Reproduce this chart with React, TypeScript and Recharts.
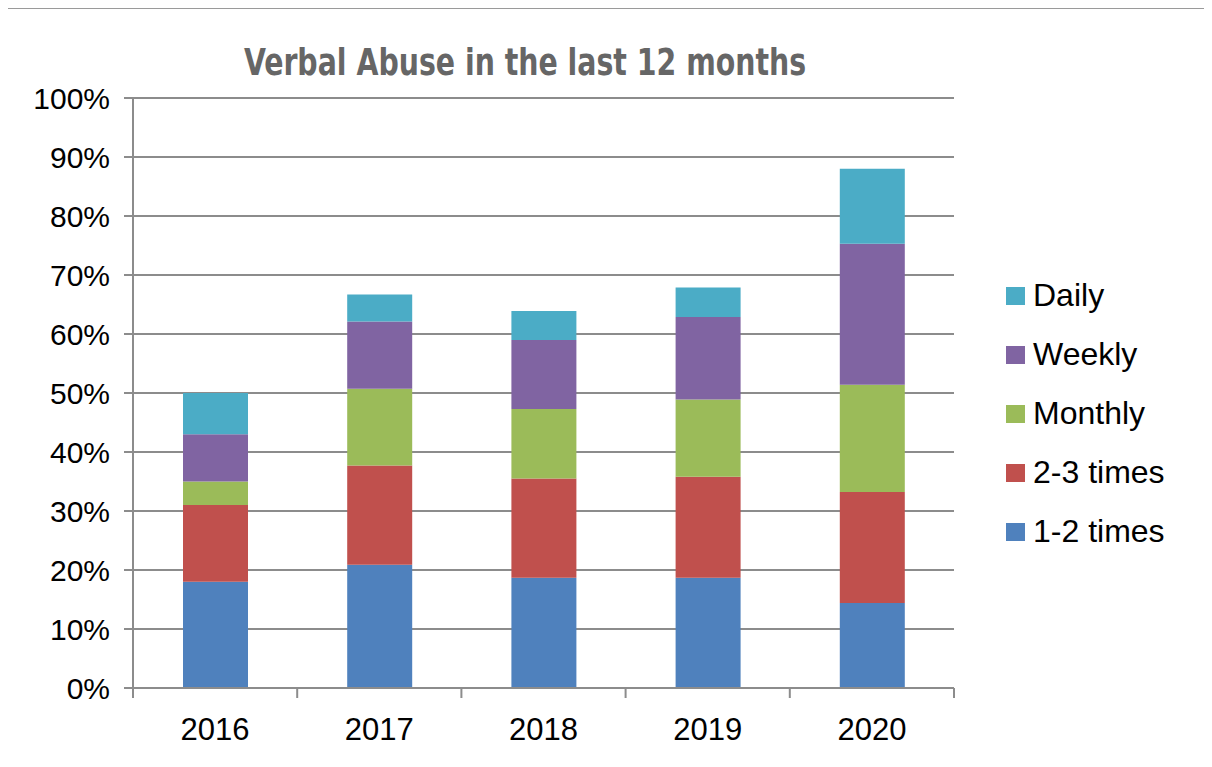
import { BarChart, Bar, XAxis, YAxis, CartesianGrid, Legend } from 'recharts';

const years = ['2016', '2017', '2018', '2019', '2020'];
const oneTwoTimes = [18.0, 20.9, 18.7, 18.7, 14.4];
const twoThreeTimes = [13.0, 16.8, 16.8, 17.1, 18.8];
const monthly = [4.0, 13.0, 11.8, 13.1, 18.2];
const weekly = [8.0, 11.4, 11.7, 14.0, 23.9];
const daily = [7.0, 4.6, 4.9, 5.0, 12.7];
const yTicks = [0, 10, 20, 30, 40, 50, 60, 70, 80, 90, 100];

const series = [
  { key: '1-2 times', values: oneTwoTimes, color: '#4F81BD' },
  { key: '2-3 times', values: twoThreeTimes, color: '#C0504D' },
  { key: 'Monthly', values: monthly, color: '#9BBB59' },
  { key: 'Weekly', values: weekly, color: '#8064A2' },
  { key: 'Daily', values: daily, color: '#4BACC6' },
];

const data = years.map((year, i) => {
  const row: Record<string, string | number> = { year };
  for (const s of series) row[s.key] = s.values[i];
  return row;
});

const W = 1212;
const H = 767;
const Y_AXIS_W = 133;
const MARGIN = { top: 98, right: 258, bottom: 19, left: 0 };
const X_AXIS_H = 60;
const BAND = (W - MARGIN.right - MARGIN.left - Y_AXIS_W) / years.length;
const AXIS_GREY = '#8c8c8c';
const FONT = '"Liberation Sans", Arial, sans-serif';

// category labels plus the tick marks that sit between the categories
const YearTick = (props: any) => {
  const { x, y, payload, index } = props;
  const last = index === years.length - 1;
  return (
    <g>
      <line x1={x - BAND / 2} x2={x - BAND / 2} y1={y} y2={y + 10} stroke={AXIS_GREY} strokeWidth={2} />
      {last && (
        <line x1={x + BAND / 2} x2={x + BAND / 2} y1={y} y2={y + 10} stroke={AXIS_GREY} strokeWidth={2} />
      )}
      <text x={x} y={y + 52} textAnchor="middle" fill="#000" fontFamily={FONT} fontSize={31}>
        {payload.value}
      </text>
    </g>
  );
};

const LegendBox = () => (
  <div style={{ fontFamily: FONT, fontSize: 32, color: '#000' }}>
    {[...series].reverse().map((s) => (
      <div key={s.key} style={{ display: 'flex', alignItems: 'center', height: 59 }}>
        <span style={{ width: 19, height: 18, background: s.color, marginRight: 8, display: 'inline-block' }} />
        <span>{s.key}</span>
      </div>
    ))}
  </div>
);

export default function App() {
  return (
    <div style={{ position: 'relative', margin: -8, width: W, height: H, overflow: 'hidden', background: '#fff' }}>
      <div
        style={{
          position: 'absolute',
          left: 0,
          width: 1050,
          top: 40,
          textAlign: 'center',
          fontFamily: '"DejaVu Sans Condensed", "Liberation Sans Narrow", sans-serif',
          fontWeight: 'bold',
          fontSize: 38,
          color: '#666666',
          transform: 'scaleX(0.83)',
          transformOrigin: '525px 0',
        }}
      >
        Verbal Abuse in the last 12 months
      </div>
      <BarChart width={W} height={H} data={data} margin={MARGIN} style={{ position: 'absolute', left: 0, top: 0 }}>
        <CartesianGrid vertical={false} stroke={AXIS_GREY} strokeWidth={2} />
        <XAxis
          dataKey="year"
          height={X_AXIS_H}
          tickSize={0}
          tickMargin={0}
          tickLine={false}
          axisLine={{ stroke: AXIS_GREY, strokeWidth: 2 }}
          tick={<YearTick />}
          interval={0}
        />
        <YAxis
          width={Y_AXIS_W}
          domain={[0, 100]}
          ticks={yTicks}
          tickFormatter={(v) => `${v}%`}
          tickSize={9}
          tickMargin={14}
          tickLine={{ stroke: AXIS_GREY, strokeWidth: 2 }}
          axisLine={{ stroke: AXIS_GREY, strokeWidth: 2 }}
          tick={{ fill: '#000', fontFamily: FONT, fontSize: 30 }}
          interval={0}
        />
        <Legend
          layout="vertical"
          align="center"
          verticalAlign="middle"
          content={<LegendBox />}
          wrapperStyle={{ left: 1006, top: 266, width: 200 }}
        />
        {series.map((s) => (
          <Bar key={s.key} dataKey={s.key} stackId="a" fill={s.color} barSize={65} isAnimationActive={false} />
        ))}
      </BarChart>
      <div
        style={{
          position: 'absolute',
          left: 3,
          top: 7,
          width: W,
          height: H,
          borderLeft: '2px solid #9a9a9a',
          borderTop: '2px solid #9a9a9a',
          pointerEvents: 'none',
        }}
      />
    </div>
  );
}
